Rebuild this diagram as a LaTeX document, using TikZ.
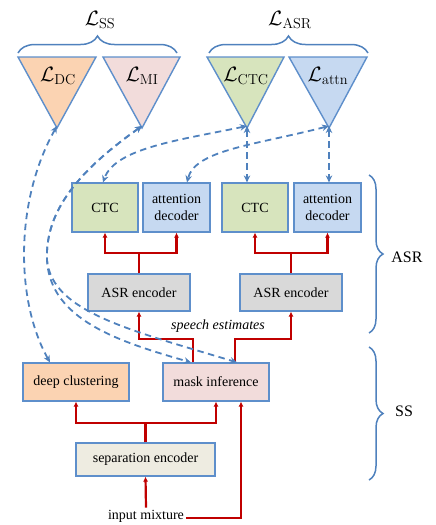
\documentclass[tikz,border=0pt]{standalone}
\usepackage[no-math]{fontspec}
\setmainfont{Liberation Serif}
\usetikzlibrary{arrows.meta,decorations.pathreplacing,calc}
\definecolor{bblue}{HTML}{5E8FCB}
\definecolor{dblue}{HTML}{4F81BD}
\definecolor{rred}{HTML}{C00000}
\definecolor{dcfill}{HTML}{FBD3B2}
\definecolor{mifill}{HTML}{F2DCDB}
\definecolor{ctcfill}{HTML}{D7E4BD}
\definecolor{attfill}{HTML}{C6D9F1}
\definecolor{encfill}{HTML}{D9D9D9}
\definecolor{sepfill}{HTML}{EEECE1}
\begin{document}
\begin{tikzpicture}[x=1pt,y=-1pt,
  box/.style={draw=bblue, line width=1.2pt, inner sep=0pt, align=center,
    font=\fontsize{14}{17}\selectfont},
  tri/.style={draw=bblue, line width=1.4pt, line join=miter},
  redarrow/.style={draw=rred, line width=2.2pt, -{Latex[length=5pt,width=5pt]}},
  redline/.style={draw=rred, line width=2.2pt},
  dasharrow/.style={draw=dblue, line width=1.8pt, dash pattern=on 6.5pt off 4.5pt,
    {Stealth[length=7pt,width=6.5pt]}-{Stealth[length=7pt,width=6.5pt]}},
  bracestyle/.style={draw=dblue, line width=1.5pt, decorate},
  lbl/.style={font=\fontsize{20}{24}\selectfont, inner sep=0pt},
  txt/.style={font=\fontsize{14}{17}\selectfont, inner sep=2pt}]
\useasboundingbox (0,0) rectangle (436,525);

% triangles
\draw[tri, fill=dcfill] (18,57) -- (96,57) -- (57,128) -- cycle;
\draw[tri, fill=mifill] (103,57) -- (180,57) -- (142,128) -- cycle;
\draw[tri, fill=ctcfill] (207,57) -- (284,57) -- (247,128) -- cycle;
\draw[tri, fill=attfill] (289,57) -- (367,57) -- (329,128) -- cycle;
\coordinate (dcA) at (57,126);
\coordinate (miA) at (142,126);
\coordinate (ctcA) at (247,126);
\coordinate (attA) at (329,126);
\node[lbl] (ldc) at (58,76) {$\mathcal{L}_{\mathrm{DC}}$};
\node[lbl] (lmi) at (142,76) {$\mathcal{L}_{\mathrm{MI}}$};
\node[lbl] (lctc) at (246,76) {$\mathcal{L}_{\mathrm{CTC}}$};
\node[lbl] (latt) at (328,76) {$\mathcal{L}_{\mathrm{attn}}$};

% top braces
\draw[bracestyle, decoration={brace, amplitude=17pt}] (18,53) -- (177,53);
\draw[bracestyle, decoration={brace, amplitude=17pt}] (209,53) -- (368,53);
\node[lbl] (lss) at (100,20) {$\mathcal{L}_{\mathrm{SS}}$};
\node[lbl] (lasr) at (290,20) {$\mathcal{L}_{\mathrm{ASR}}$};

% boxes
\node[box, fill=ctcfill, minimum width=66pt, minimum height=49pt] (ctc1) at (105,207.5) {CTC};
\node[box, fill=attfill, minimum width=67pt, minimum height=49pt] (att1) at (176.5,207.5) {attention\\decoder};
\node[box, fill=ctcfill, minimum width=66pt, minimum height=49pt] (ctc2) at (255,207.5) {CTC};
\node[box, fill=attfill, minimum width=67pt, minimum height=49pt] (att2) at (327.5,207.5) {attention\\decoder};
\node[box, fill=encfill, minimum width=102pt, minimum height=37pt] (asr1) at (139,292.5) {ASR encoder};
\node[box, fill=encfill, minimum width=102pt, minimum height=37pt] (asr2) at (291,292.5) {ASR encoder};
\node[box, fill=dcfill, minimum width=106pt, minimum height=38pt] (dc) at (76,382) {deep clustering};
\node[box, fill=mifill, minimum width=106pt, minimum height=38pt] (mi) at (216,382) {mask inference};
\node[box, fill=sepfill, minimum width=139pt, minimum height=33pt] (sep) at (145.5,459.5) {separation encoder};
\node[txt] (im) at (146,516) {input mixture};
\node[txt, font=\fontsize{14}{17}\selectfont\itshape] (se) at (218,326) {speech estimates};

% right braces
\draw[bracestyle, decoration={brace, amplitude=14pt}] (369,175) -- (369,333);
\draw[bracestyle, decoration={brace, amplitude=14pt}] (369,347) -- (369,480);
\node[txt, font=\fontsize{16}{19}\selectfont] (asrl) at (407,257) {ASR};
\node[txt, font=\fontsize{16}{19}\selectfont] (ssl) at (404,411) {SS};

% red connectors
\coordinate (j1) at (139,253);
\coordinate (j2) at (291,253);
\coordinate (j3) at (145.5,423);
\draw[redline] (asr1.north) -- (j1);
\draw[redarrow] (j1) -| (ctc1.south);
\draw[redarrow] (j1) -| (att1.south);
\draw[redline] (asr2.north) -- (j2);
\draw[redarrow] (j2) -| (ctc2.south);
\draw[redarrow] (j2) -| (att2.south);
\draw[redarrow] ([xshift=-23pt]mi.north) |- ([yshift=-27pt]asr1.south) -- (asr1.south);
\draw[redarrow] ([xshift=19pt]mi.north) |- ([yshift=-27pt]asr2.south) -- (asr2.south);
\draw[redline] (sep.north) -- (j3);
\draw[redarrow] (j3) -| (dc.south);
\draw[redarrow] (j3) -| (mi.south);
\draw[redarrow] (im.north) -- (sep.south);
\draw[redarrow] ([yshift=-2pt]im.east) -| ([xshift=25pt]mi.south);

% dashed connectors
\draw[dasharrow] (dcA) .. controls (15,200) and (15,300) .. ([xshift=-26pt]dc.north);
\draw[dasharrow] (miA) .. controls (80,170) and (45,210) .. (47,260)
   .. controls (50,320) and (120,342) .. ([xshift=-25pt]mi.north);
\draw[dasharrow] (miA) .. controls (80,170) and (45,210) .. (47,260)
   .. controls (52,312) and (130,330) .. ([xshift=21pt]mi.north);
\draw[dasharrow] (ctcA) .. controls (180,140) and (115,148) .. ([xshift=-2pt]ctc1.north);
\draw[dasharrow] (attA) .. controls (255,145) and (195,150) .. ([xshift=10.5pt]att1.north);
\draw[dasharrow] (ctcA) -- (ctcA |- ctc2.north);
\draw[dasharrow] (attA) -- (attA |- att2.north);
\end{tikzpicture}
\end{document}
